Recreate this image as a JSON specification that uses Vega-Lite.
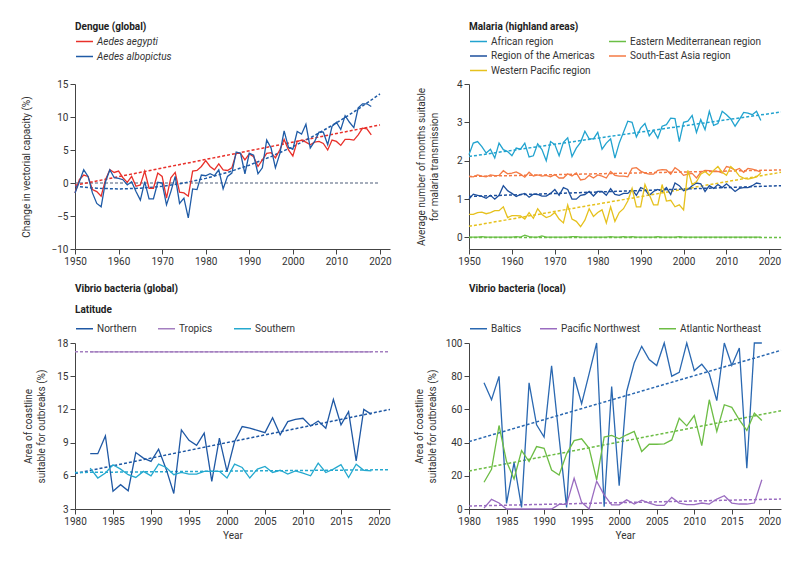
{
"$schema": "https://vega.github.io/schema/vega-lite/v6.json",
"padding": {"left": 21, "top": 22, "right": 5, "bottom": 5},
"background": "white",
"config": {
 "font": "Roboto",
 "view": {"stroke": null},
 "axis": {"domainColor": "#444", "tickColor": "#444", "labelColor": "#333", "titleColor": "#333", "labelFontSize": 10, "titleFontSize": 10, "titleFontWeight": "normal", "grid": false, "tickSize": 5, "labelPadding": 2, "domainWidth": 1, "tickWidth": 1, "zindex": 1, "titleLineHeight": 13, "labelFlush": false, "labelOverlap": false},
 "legend": {"labelFontSize": 10, "titleFontSize": 10, "titleFontWeight": "bold", "labelColor": "#333", "titleColor": "#222", "symbolType": "stroke", "symbolSize": 289, "symbolStrokeWidth": 1.5, "labelOffset": 3, "padding": 0, "rowPadding": -3, "titlePadding": 0}
},
"columns": 2,
"spacing": {"row": 94, "column": 79},
"bounds": "flush",
"resolve": {"scale": {"color": "independent", "x": "independent", "y": "independent"}, "legend": {"color": "independent"}},
"datasets": {
 "dengue": [
{"year":1950,"series":"Aedes aegypti","value":-1.5},{"year":1951,"series":"Aedes aegypti","value":0.5},{"year":1952,"series":"Aedes aegypti","value":1.2},{"year":1953,"series":"Aedes aegypti","value":1.0},{"year":1954,"series":"Aedes aegypti","value":-1.0},{"year":1955,"series":"Aedes aegypti","value":-1.3},{"year":1956,"series":"Aedes aegypti","value":-2.0},{"year":1957,"series":"Aedes aegypti","value":0.5},{"year":1958,"series":"Aedes aegypti","value":2.0},{"year":1959,"series":"Aedes aegypti","value":1.6},
{"year":1960,"series":"Aedes aegypti","value":1.8},{"year":1961,"series":"Aedes aegypti","value":0.8},{"year":1962,"series":"Aedes aegypti","value":0.1},{"year":1963,"series":"Aedes aegypti","value":1.0},{"year":1964,"series":"Aedes aegypti","value":-0.5},{"year":1965,"series":"Aedes aegypti","value":-0.3},{"year":1966,"series":"Aedes aegypti","value":1.8},{"year":1967,"series":"Aedes aegypti","value":-0.8},{"year":1968,"series":"Aedes aegypti","value":-0.8},{"year":1969,"series":"Aedes aegypti","value":1.5},
{"year":1970,"series":"Aedes aegypti","value":1.0},{"year":1971,"series":"Aedes aegypti","value":-2.3},{"year":1972,"series":"Aedes aegypti","value":0.8},{"year":1973,"series":"Aedes aegypti","value":1.6},{"year":1974,"series":"Aedes aegypti","value":-1.4},{"year":1975,"series":"Aedes aegypti","value":-1.5},{"year":1976,"series":"Aedes aegypti","value":-2.0},{"year":1977,"series":"Aedes aegypti","value":1.8},{"year":1978,"series":"Aedes aegypti","value":1.9},{"year":1979,"series":"Aedes aegypti","value":2.5},
{"year":1980,"series":"Aedes aegypti","value":3.4},{"year":1981,"series":"Aedes aegypti","value":2.5},{"year":1982,"series":"Aedes aegypti","value":2.0},{"year":1983,"series":"Aedes aegypti","value":2.9},{"year":1984,"series":"Aedes aegypti","value":2.0},{"year":1985,"series":"Aedes aegypti","value":1.9},{"year":1986,"series":"Aedes aegypti","value":2.3},{"year":1987,"series":"Aedes aegypti","value":4.5},{"year":1988,"series":"Aedes aegypti","value":4.5},{"year":1989,"series":"Aedes aegypti","value":3.5},
{"year":1990,"series":"Aedes aegypti","value":4.4},{"year":1991,"series":"Aedes aegypti","value":4.0},{"year":1992,"series":"Aedes aegypti","value":2.5},{"year":1993,"series":"Aedes aegypti","value":3.5},{"year":1994,"series":"Aedes aegypti","value":4.5},{"year":1995,"series":"Aedes aegypti","value":4.6},{"year":1996,"series":"Aedes aegypti","value":3.8},{"year":1997,"series":"Aedes aegypti","value":5.0},{"year":1998,"series":"Aedes aegypti","value":6.6},{"year":1999,"series":"Aedes aegypti","value":5.0},
{"year":2000,"series":"Aedes aegypti","value":4.1},{"year":2001,"series":"Aedes aegypti","value":6.3},{"year":2002,"series":"Aedes aegypti","value":6.5},{"year":2003,"series":"Aedes aegypti","value":6.2},{"year":2004,"series":"Aedes aegypti","value":5.8},{"year":2005,"series":"Aedes aegypti","value":6.2},{"year":2006,"series":"Aedes aegypti","value":6.3},{"year":2007,"series":"Aedes aegypti","value":6.0},{"year":2008,"series":"Aedes aegypti","value":5.0},{"year":2009,"series":"Aedes aegypti","value":6.5},
{"year":2010,"series":"Aedes aegypti","value":6.3},{"year":2011,"series":"Aedes aegypti","value":5.7},{"year":2012,"series":"Aedes aegypti","value":6.6},{"year":2013,"series":"Aedes aegypti","value":6.6},{"year":2014,"series":"Aedes aegypti","value":6.5},{"year":2015,"series":"Aedes aegypti","value":7.3},{"year":2016,"series":"Aedes aegypti","value":8.3},{"year":2017,"series":"Aedes aegypti","value":8.2},{"year":2018,"series":"Aedes aegypti","value":7.3},
{"year":1950,"series":"Aedes albopictus","value":-1.5},{"year":1951,"series":"Aedes albopictus","value":0.2},{"year":1952,"series":"Aedes albopictus","value":2.0},{"year":1953,"series":"Aedes albopictus","value":1.0},{"year":1954,"series":"Aedes albopictus","value":-1.5},{"year":1955,"series":"Aedes albopictus","value":-3.1},{"year":1956,"series":"Aedes albopictus","value":-3.6},{"year":1957,"series":"Aedes albopictus","value":0.2},{"year":1958,"series":"Aedes albopictus","value":2.0},{"year":1959,"series":"Aedes albopictus","value":0.8},
{"year":1960,"series":"Aedes albopictus","value":0.7},{"year":1961,"series":"Aedes albopictus","value":0.5},{"year":1962,"series":"Aedes albopictus","value":-0.3},{"year":1963,"series":"Aedes albopictus","value":0.2},{"year":1964,"series":"Aedes albopictus","value":-1.3},{"year":1965,"series":"Aedes albopictus","value":-2.6},{"year":1966,"series":"Aedes albopictus","value":0.2},{"year":1967,"series":"Aedes albopictus","value":-2.4},{"year":1968,"series":"Aedes albopictus","value":-2.4},{"year":1969,"series":"Aedes albopictus","value":0.1},
{"year":1970,"series":"Aedes albopictus","value":0.0},{"year":1971,"series":"Aedes albopictus","value":-3.3},{"year":1972,"series":"Aedes albopictus","value":-1.3},{"year":1973,"series":"Aedes albopictus","value":1.0},{"year":1974,"series":"Aedes albopictus","value":-3.1},{"year":1975,"series":"Aedes albopictus","value":-2.3},{"year":1976,"series":"Aedes albopictus","value":-5.3},{"year":1977,"series":"Aedes albopictus","value":-0.9},{"year":1978,"series":"Aedes albopictus","value":-1.0},{"year":1979,"series":"Aedes albopictus","value":1.2},
{"year":1980,"series":"Aedes albopictus","value":1.1},{"year":1981,"series":"Aedes albopictus","value":1.4},{"year":1982,"series":"Aedes albopictus","value":1.1},{"year":1983,"series":"Aedes albopictus","value":2.0},{"year":1984,"series":"Aedes albopictus","value":-0.9},{"year":1985,"series":"Aedes albopictus","value":1.0},{"year":1986,"series":"Aedes albopictus","value":1.5},{"year":1987,"series":"Aedes albopictus","value":4.7},{"year":1988,"series":"Aedes albopictus","value":4.5},{"year":1989,"series":"Aedes albopictus","value":1.4},
{"year":1990,"series":"Aedes albopictus","value":4.5},{"year":1991,"series":"Aedes albopictus","value":4.2},{"year":1992,"series":"Aedes albopictus","value":1.4},{"year":1993,"series":"Aedes albopictus","value":2.3},{"year":1994,"series":"Aedes albopictus","value":6.5},{"year":1995,"series":"Aedes albopictus","value":5.3},{"year":1996,"series":"Aedes albopictus","value":2.3},{"year":1997,"series":"Aedes albopictus","value":4.4},{"year":1998,"series":"Aedes albopictus","value":7.9},{"year":1999,"series":"Aedes albopictus","value":5.4},
{"year":2000,"series":"Aedes albopictus","value":5.1},{"year":2001,"series":"Aedes albopictus","value":7.8},{"year":2002,"series":"Aedes albopictus","value":7.4},{"year":2003,"series":"Aedes albopictus","value":8.9},{"year":2004,"series":"Aedes albopictus","value":5.3},{"year":2005,"series":"Aedes albopictus","value":6.3},{"year":2006,"series":"Aedes albopictus","value":7.7},{"year":2007,"series":"Aedes albopictus","value":7.7},{"year":2008,"series":"Aedes albopictus","value":5.8},{"year":2009,"series":"Aedes albopictus","value":8.6},
{"year":2010,"series":"Aedes albopictus","value":9.2},{"year":2011,"series":"Aedes albopictus","value":8.1},{"year":2012,"series":"Aedes albopictus","value":10.2},{"year":2013,"series":"Aedes albopictus","value":9.2},{"year":2014,"series":"Aedes albopictus","value":8.4},{"year":2015,"series":"Aedes albopictus","value":11.4},{"year":2016,"series":"Aedes albopictus","value":12.0},{"year":2017,"series":"Aedes albopictus","value":12.0},{"year":2018,"series":"Aedes albopictus","value":11.6}
 ],
 "dengueTrend": [
{"year":1950,"series":"Aedes aegypti","value":-0.35},{"year":2020,"series":"Aedes aegypti","value":8.8},
{"year":1950,"series":"Aedes albopictus","value":-0.5},{"year":1955,"series":"Aedes albopictus","value":-0.8},{"year":1960,"series":"Aedes albopictus","value":-0.9},{"year":1965,"series":"Aedes albopictus","value":-0.8},{"year":1970,"series":"Aedes albopictus","value":-0.5},{"year":1975,"series":"Aedes albopictus","value":0.0},{"year":1980,"series":"Aedes albopictus","value":0.7},{"year":1985,"series":"Aedes albopictus","value":1.6},{"year":1990,"series":"Aedes albopictus","value":2.7},{"year":1995,"series":"Aedes albopictus","value":4.0},{"year":2000,"series":"Aedes albopictus","value":5.5},{"year":2005,"series":"Aedes albopictus","value":7.2},{"year":2010,"series":"Aedes albopictus","value":9.1},{"year":2015,"series":"Aedes albopictus","value":11.2},{"year":2020,"series":"Aedes albopictus","value":13.5}
 ],
 "malaria": [
{"year":1950,"series":"African region","value":2.16},{"year":1951,"series":"African region","value":2.46},{"year":1952,"series":"African region","value":2.5},{"year":1953,"series":"African region","value":2.37},{"year":1954,"series":"African region","value":2.2},{"year":1955,"series":"African region","value":2.3},{"year":1956,"series":"African region","value":2.07},{"year":1957,"series":"African region","value":2.46},{"year":1958,"series":"African region","value":2.29},{"year":1959,"series":"African region","value":2.24},
{"year":1960,"series":"African region","value":2.13},{"year":1961,"series":"African region","value":2.33},{"year":1962,"series":"African region","value":2.3},{"year":1963,"series":"African region","value":2.46},{"year":1964,"series":"African region","value":2.1},{"year":1965,"series":"African region","value":2.13},{"year":1966,"series":"African region","value":2.44},{"year":1967,"series":"African region","value":2.29},{"year":1968,"series":"African region","value":2.0},{"year":1969,"series":"African region","value":2.5},
{"year":1970,"series":"African region","value":2.42},{"year":1971,"series":"African region","value":2.13},{"year":1972,"series":"African region","value":2.48},{"year":1973,"series":"African region","value":2.6},{"year":1974,"series":"African region","value":2.11},{"year":1975,"series":"African region","value":2.33},{"year":1976,"series":"African region","value":2.48},{"year":1977,"series":"African region","value":2.77},{"year":1978,"series":"African region","value":2.57},{"year":1979,"series":"African region","value":2.57},
{"year":1980,"series":"African region","value":2.74},{"year":1981,"series":"African region","value":2.3},{"year":1982,"series":"African region","value":2.46},{"year":1983,"series":"African region","value":2.57},{"year":1984,"series":"African region","value":2.07},{"year":1985,"series":"African region","value":2.46},{"year":1986,"series":"African region","value":2.74},{"year":1987,"series":"African region","value":3.03},{"year":1988,"series":"African region","value":3.0},{"year":1989,"series":"African region","value":2.62},
{"year":1990,"series":"African region","value":2.85},{"year":1991,"series":"African region","value":2.97},{"year":1992,"series":"African region","value":2.65},{"year":1993,"series":"African region","value":2.79},{"year":1994,"series":"African region","value":2.59},{"year":1995,"series":"African region","value":2.9},{"year":1996,"series":"African region","value":2.94},{"year":1997,"series":"African region","value":3.11},{"year":1998,"series":"African region","value":3.1},{"year":1999,"series":"African region","value":2.5},
{"year":2000,"series":"African region","value":3.0},{"year":2001,"series":"African region","value":3.03},{"year":2002,"series":"African region","value":3.18},{"year":2003,"series":"African region","value":2.74},{"year":2004,"series":"African region","value":3.07},{"year":2005,"series":"African region","value":2.81},{"year":2006,"series":"African region","value":3.29},{"year":2007,"series":"African region","value":2.92},{"year":2008,"series":"African region","value":2.97},{"year":2009,"series":"African region","value":3.29},
{"year":2010,"series":"African region","value":3.2},{"year":2011,"series":"African region","value":3.09},{"year":2012,"series":"African region","value":2.9},{"year":2013,"series":"African region","value":3.07},{"year":2014,"series":"African region","value":3.26},{"year":2015,"series":"African region","value":3.24},{"year":2016,"series":"African region","value":3.2},{"year":2017,"series":"African region","value":3.29},{"year":2018,"series":"African region","value":3.05},
{"year":1950,"series":"Eastern Mediterranean region","value":0.01},{"year":1951,"series":"Eastern Mediterranean region","value":0.01},{"year":1952,"series":"Eastern Mediterranean region","value":0.01},{"year":1953,"series":"Eastern Mediterranean region","value":0.02},{"year":1954,"series":"Eastern Mediterranean region","value":0.01},{"year":1955,"series":"Eastern Mediterranean region","value":0.01},{"year":1956,"series":"Eastern Mediterranean region","value":0.01},{"year":1957,"series":"Eastern Mediterranean region","value":0.01},{"year":1958,"series":"Eastern Mediterranean region","value":0.01},{"year":1959,"series":"Eastern Mediterranean region","value":0.01},
{"year":1960,"series":"Eastern Mediterranean region","value":0.01},{"year":1961,"series":"Eastern Mediterranean region","value":0.02},{"year":1962,"series":"Eastern Mediterranean region","value":0.01},{"year":1963,"series":"Eastern Mediterranean region","value":0.06},{"year":1964,"series":"Eastern Mediterranean region","value":0.02},{"year":1965,"series":"Eastern Mediterranean region","value":0.01},{"year":1966,"series":"Eastern Mediterranean region","value":0.01},{"year":1967,"series":"Eastern Mediterranean region","value":0.04},{"year":1968,"series":"Eastern Mediterranean region","value":0.01},{"year":1969,"series":"Eastern Mediterranean region","value":0.01},
{"year":1970,"series":"Eastern Mediterranean region","value":0.01},{"year":1971,"series":"Eastern Mediterranean region","value":0.01},{"year":1972,"series":"Eastern Mediterranean region","value":0.01},{"year":1973,"series":"Eastern Mediterranean region","value":0.01},{"year":1974,"series":"Eastern Mediterranean region","value":0.02},{"year":1975,"series":"Eastern Mediterranean region","value":0.02},{"year":1976,"series":"Eastern Mediterranean region","value":0.01},{"year":1977,"series":"Eastern Mediterranean region","value":0.01},{"year":1978,"series":"Eastern Mediterranean region","value":0.01},{"year":1979,"series":"Eastern Mediterranean region","value":0.01},
{"year":1980,"series":"Eastern Mediterranean region","value":0.01},{"year":1981,"series":"Eastern Mediterranean region","value":0.01},{"year":1982,"series":"Eastern Mediterranean region","value":0.01},{"year":1983,"series":"Eastern Mediterranean region","value":0.02},{"year":1984,"series":"Eastern Mediterranean region","value":0.01},{"year":1985,"series":"Eastern Mediterranean region","value":0.01},{"year":1986,"series":"Eastern Mediterranean region","value":0.02},{"year":1987,"series":"Eastern Mediterranean region","value":0.01},{"year":1988,"series":"Eastern Mediterranean region","value":0.02},{"year":1989,"series":"Eastern Mediterranean region","value":0.01},
{"year":1990,"series":"Eastern Mediterranean region","value":0.01},{"year":1991,"series":"Eastern Mediterranean region","value":0.01},{"year":1992,"series":"Eastern Mediterranean region","value":0.01},{"year":1993,"series":"Eastern Mediterranean region","value":0.01},{"year":1994,"series":"Eastern Mediterranean region","value":0.02},{"year":1995,"series":"Eastern Mediterranean region","value":0.01},{"year":1996,"series":"Eastern Mediterranean region","value":0.01},{"year":1997,"series":"Eastern Mediterranean region","value":0.01},{"year":1998,"series":"Eastern Mediterranean region","value":0.01},{"year":1999,"series":"Eastern Mediterranean region","value":0.02},
{"year":2000,"series":"Eastern Mediterranean region","value":0.01},{"year":2001,"series":"Eastern Mediterranean region","value":0.01},{"year":2002,"series":"Eastern Mediterranean region","value":0.01},{"year":2003,"series":"Eastern Mediterranean region","value":0.01},{"year":2004,"series":"Eastern Mediterranean region","value":0.01},{"year":2005,"series":"Eastern Mediterranean region","value":0.01},{"year":2006,"series":"Eastern Mediterranean region","value":0.01},{"year":2007,"series":"Eastern Mediterranean region","value":0.01},{"year":2008,"series":"Eastern Mediterranean region","value":0.01},{"year":2009,"series":"Eastern Mediterranean region","value":0.01},
{"year":2010,"series":"Eastern Mediterranean region","value":0.01},{"year":2011,"series":"Eastern Mediterranean region","value":0.01},{"year":2012,"series":"Eastern Mediterranean region","value":0.01},{"year":2013,"series":"Eastern Mediterranean region","value":0.01},{"year":2014,"series":"Eastern Mediterranean region","value":0.01},{"year":2015,"series":"Eastern Mediterranean region","value":0.01},{"year":2016,"series":"Eastern Mediterranean region","value":0.01},{"year":2017,"series":"Eastern Mediterranean region","value":0.01},{"year":2018,"series":"Eastern Mediterranean region","value":0.01},
{"year":1950,"series":"South-East Asia region","value":1.59},{"year":1951,"series":"South-East Asia region","value":1.58},{"year":1952,"series":"South-East Asia region","value":1.63},{"year":1953,"series":"South-East Asia region","value":1.6},{"year":1954,"series":"South-East Asia region","value":1.58},{"year":1955,"series":"South-East Asia region","value":1.63},{"year":1956,"series":"South-East Asia region","value":1.61},{"year":1957,"series":"South-East Asia region","value":1.62},{"year":1958,"series":"South-East Asia region","value":1.74},{"year":1959,"series":"South-East Asia region","value":1.66},
{"year":1960,"series":"South-East Asia region","value":1.68},{"year":1961,"series":"South-East Asia region","value":1.71},{"year":1962,"series":"South-East Asia region","value":1.65},{"year":1963,"series":"South-East Asia region","value":1.57},{"year":1964,"series":"South-East Asia region","value":1.7},{"year":1965,"series":"South-East Asia region","value":1.6},{"year":1966,"series":"South-East Asia region","value":1.63},{"year":1967,"series":"South-East Asia region","value":1.6},{"year":1968,"series":"South-East Asia region","value":1.62},{"year":1969,"series":"South-East Asia region","value":1.58},
{"year":1970,"series":"South-East Asia region","value":1.64},{"year":1971,"series":"South-East Asia region","value":1.55},{"year":1972,"series":"South-East Asia region","value":1.55},{"year":1973,"series":"South-East Asia region","value":1.66},{"year":1974,"series":"South-East Asia region","value":1.6},{"year":1975,"series":"South-East Asia region","value":1.68},{"year":1976,"series":"South-East Asia region","value":1.5},{"year":1977,"series":"South-East Asia region","value":1.52},{"year":1978,"series":"South-East Asia region","value":1.62},{"year":1979,"series":"South-East Asia region","value":1.55},
{"year":1980,"series":"South-East Asia region","value":1.63},{"year":1981,"series":"South-East Asia region","value":1.6},{"year":1982,"series":"South-East Asia region","value":1.55},{"year":1983,"series":"South-East Asia region","value":1.72},{"year":1984,"series":"South-East Asia region","value":1.62},{"year":1985,"series":"South-East Asia region","value":1.6},{"year":1986,"series":"South-East Asia region","value":1.6},{"year":1987,"series":"South-East Asia region","value":1.58},{"year":1988,"series":"South-East Asia region","value":1.8},{"year":1989,"series":"South-East Asia region","value":1.82},
{"year":1990,"series":"South-East Asia region","value":1.73},{"year":1991,"series":"South-East Asia region","value":1.68},{"year":1992,"series":"South-East Asia region","value":1.65},{"year":1993,"series":"South-East Asia region","value":1.65},{"year":1994,"series":"South-East Asia region","value":1.75},{"year":1995,"series":"South-East Asia region","value":1.77},{"year":1996,"series":"South-East Asia region","value":1.76},{"year":1997,"series":"South-East Asia region","value":1.65},{"year":1998,"series":"South-East Asia region","value":1.82},{"year":1999,"series":"South-East Asia region","value":1.74},
{"year":2000,"series":"South-East Asia region","value":1.62},{"year":2001,"series":"South-East Asia region","value":1.65},{"year":2002,"series":"South-East Asia region","value":1.67},{"year":2003,"series":"South-East Asia region","value":1.55},{"year":2004,"series":"South-East Asia region","value":1.7},{"year":2005,"series":"South-East Asia region","value":1.75},{"year":2006,"series":"South-East Asia region","value":1.74},{"year":2007,"series":"South-East Asia region","value":1.72},{"year":2008,"series":"South-East Asia region","value":1.72},{"year":2009,"series":"South-East Asia region","value":1.68},
{"year":2010,"series":"South-East Asia region","value":1.85},{"year":2011,"series":"South-East Asia region","value":1.82},{"year":2012,"series":"South-East Asia region","value":1.75},{"year":2013,"series":"South-East Asia region","value":1.8},{"year":2014,"series":"South-East Asia region","value":1.7},{"year":2015,"series":"South-East Asia region","value":1.8},{"year":2016,"series":"South-East Asia region","value":1.78},{"year":2017,"series":"South-East Asia region","value":1.75},{"year":2018,"series":"South-East Asia region","value":1.7},
{"year":1950,"series":"Region of the Americas","value":1.0},{"year":1951,"series":"Region of the Americas","value":1.13},{"year":1952,"series":"Region of the Americas","value":1.1},{"year":1953,"series":"Region of the Americas","value":1.07},{"year":1954,"series":"Region of the Americas","value":1.02},{"year":1955,"series":"Region of the Americas","value":1.1},{"year":1956,"series":"Region of the Americas","value":1.0},{"year":1957,"series":"Region of the Americas","value":1.1},{"year":1958,"series":"Region of the Americas","value":1.35},{"year":1959,"series":"Region of the Americas","value":1.22},
{"year":1960,"series":"Region of the Americas","value":1.15},{"year":1961,"series":"Region of the Americas","value":1.07},{"year":1962,"series":"Region of the Americas","value":1.12},{"year":1963,"series":"Region of the Americas","value":1.15},{"year":1964,"series":"Region of the Americas","value":1.05},{"year":1965,"series":"Region of the Americas","value":1.13},{"year":1966,"series":"Region of the Americas","value":1.12},{"year":1967,"series":"Region of the Americas","value":1.08},{"year":1968,"series":"Region of the Americas","value":1.08},{"year":1969,"series":"Region of the Americas","value":1.15},
{"year":1970,"series":"Region of the Americas","value":1.25},{"year":1971,"series":"Region of the Americas","value":1.1},{"year":1972,"series":"Region of the Americas","value":1.3},{"year":1973,"series":"Region of the Americas","value":1.25},{"year":1974,"series":"Region of the Americas","value":1.0},{"year":1975,"series":"Region of the Americas","value":1.0},{"year":1976,"series":"Region of the Americas","value":1.1},{"year":1977,"series":"Region of the Americas","value":1.12},{"year":1978,"series":"Region of the Americas","value":1.2},{"year":1979,"series":"Region of the Americas","value":1.08},
{"year":1980,"series":"Region of the Americas","value":1.2},{"year":1981,"series":"Region of the Americas","value":1.2},{"year":1982,"series":"Region of the Americas","value":1.1},{"year":1983,"series":"Region of the Americas","value":1.27},{"year":1984,"series":"Region of the Americas","value":1.12},{"year":1985,"series":"Region of the Americas","value":1.1},{"year":1986,"series":"Region of the Americas","value":1.15},{"year":1987,"series":"Region of the Americas","value":1.15},{"year":1988,"series":"Region of the Americas","value":1.25},{"year":1989,"series":"Region of the Americas","value":1.1},
{"year":1990,"series":"Region of the Americas","value":1.3},{"year":1991,"series":"Region of the Americas","value":1.25},{"year":1992,"series":"Region of the Americas","value":1.1},{"year":1993,"series":"Region of the Americas","value":1.2},{"year":1994,"series":"Region of the Americas","value":1.25},{"year":1995,"series":"Region of the Americas","value":1.2},{"year":1996,"series":"Region of the Americas","value":1.3},{"year":1997,"series":"Region of the Americas","value":1.12},{"year":1998,"series":"Region of the Americas","value":1.42},{"year":1999,"series":"Region of the Americas","value":1.35},
{"year":2000,"series":"Region of the Americas","value":1.22},{"year":2001,"series":"Region of the Americas","value":1.25},{"year":2002,"series":"Region of the Americas","value":1.35},{"year":2003,"series":"Region of the Americas","value":1.42},{"year":2004,"series":"Region of the Americas","value":1.4},{"year":2005,"series":"Region of the Americas","value":1.2},{"year":2006,"series":"Region of the Americas","value":1.35},{"year":2007,"series":"Region of the Americas","value":1.28},{"year":2008,"series":"Region of the Americas","value":1.38},{"year":2009,"series":"Region of the Americas","value":1.3},
{"year":2010,"series":"Region of the Americas","value":1.4},{"year":2011,"series":"Region of the Americas","value":1.3},{"year":2012,"series":"Region of the Americas","value":1.2},{"year":2013,"series":"Region of the Americas","value":1.28},{"year":2014,"series":"Region of the Americas","value":1.3},{"year":2015,"series":"Region of the Americas","value":1.3},{"year":2016,"series":"Region of the Americas","value":1.35},{"year":2017,"series":"Region of the Americas","value":1.42},{"year":2018,"series":"Region of the Americas","value":1.4},
{"year":1950,"series":"Western Pacific region","value":0.6},{"year":1951,"series":"Western Pacific region","value":0.6},{"year":1952,"series":"Western Pacific region","value":0.65},{"year":1953,"series":"Western Pacific region","value":0.66},{"year":1954,"series":"Western Pacific region","value":0.62},{"year":1955,"series":"Western Pacific region","value":0.65},{"year":1956,"series":"Western Pacific region","value":0.7},{"year":1957,"series":"Western Pacific region","value":0.7},{"year":1958,"series":"Western Pacific region","value":0.8},{"year":1959,"series":"Western Pacific region","value":0.52},
{"year":1960,"series":"Western Pacific region","value":0.57},{"year":1961,"series":"Western Pacific region","value":0.57},{"year":1962,"series":"Western Pacific region","value":0.56},{"year":1963,"series":"Western Pacific region","value":0.48},{"year":1964,"series":"Western Pacific region","value":0.65},{"year":1965,"series":"Western Pacific region","value":0.5},{"year":1966,"series":"Western Pacific region","value":0.75},{"year":1967,"series":"Western Pacific region","value":0.6},{"year":1968,"series":"Western Pacific region","value":0.52},{"year":1969,"series":"Western Pacific region","value":0.56},
{"year":1970,"series":"Western Pacific region","value":0.65},{"year":1971,"series":"Western Pacific region","value":0.48},{"year":1972,"series":"Western Pacific region","value":0.38},{"year":1973,"series":"Western Pacific region","value":0.85},{"year":1974,"series":"Western Pacific region","value":0.48},{"year":1975,"series":"Western Pacific region","value":0.42},{"year":1976,"series":"Western Pacific region","value":0.28},{"year":1977,"series":"Western Pacific region","value":0.45},{"year":1978,"series":"Western Pacific region","value":0.75},{"year":1979,"series":"Western Pacific region","value":0.55},
{"year":1980,"series":"Western Pacific region","value":0.65},{"year":1981,"series":"Western Pacific region","value":0.72},{"year":1982,"series":"Western Pacific region","value":0.38},{"year":1983,"series":"Western Pacific region","value":0.8},{"year":1984,"series":"Western Pacific region","value":0.42},{"year":1985,"series":"Western Pacific region","value":0.65},{"year":1986,"series":"Western Pacific region","value":0.75},{"year":1987,"series":"Western Pacific region","value":0.95},{"year":1988,"series":"Western Pacific region","value":1.28},{"year":1989,"series":"Western Pacific region","value":0.8},
{"year":1990,"series":"Western Pacific region","value":0.8},{"year":1991,"series":"Western Pacific region","value":1.38},{"year":1992,"series":"Western Pacific region","value":1.12},{"year":1993,"series":"Western Pacific region","value":0.85},{"year":1994,"series":"Western Pacific region","value":0.85},{"year":1995,"series":"Western Pacific region","value":1.38},{"year":1996,"series":"Western Pacific region","value":0.95},{"year":1997,"series":"Western Pacific region","value":0.97},{"year":1998,"series":"Western Pacific region","value":0.8},{"year":1999,"series":"Western Pacific region","value":0.85},
{"year":2000,"series":"Western Pacific region","value":0.72},{"year":2001,"series":"Western Pacific region","value":1.75},{"year":2002,"series":"Western Pacific region","value":1.38},{"year":2003,"series":"Western Pacific region","value":1.45},{"year":2004,"series":"Western Pacific region","value":1.65},{"year":2005,"series":"Western Pacific region","value":1.72},{"year":2006,"series":"Western Pacific region","value":1.62},{"year":2007,"series":"Western Pacific region","value":1.75},{"year":2008,"series":"Western Pacific region","value":1.85},{"year":2009,"series":"Western Pacific region","value":1.7},
{"year":2010,"series":"Western Pacific region","value":1.62},{"year":2011,"series":"Western Pacific region","value":1.85},{"year":2012,"series":"Western Pacific region","value":1.75},{"year":2013,"series":"Western Pacific region","value":1.6},{"year":2014,"series":"Western Pacific region","value":1.55},{"year":2015,"series":"Western Pacific region","value":1.52},{"year":2016,"series":"Western Pacific region","value":1.55},{"year":2017,"series":"Western Pacific region","value":1.58},{"year":2018,"series":"Western Pacific region","value":1.68}
 ],
 "malariaTrend": [
{"year":1950,"series":"African region","value":2.11},{"year":2022.7,"series":"African region","value":3.27},
{"year":1950,"series":"Eastern Mediterranean region","value":0},{"year":2022.7,"series":"Eastern Mediterranean region","value":0},
{"year":1950,"series":"Region of the Americas","value":1.07},{"year":2022.7,"series":"Region of the Americas","value":1.35},
{"year":1950,"series":"South-East Asia region","value":1.59},{"year":2022.7,"series":"South-East Asia region","value":1.76},
{"year":1950,"series":"Western Pacific region","value":0.29},{"year":2022.7,"series":"Western Pacific region","value":1.7}
 ],
 "vibrioGlobal": [
{"year":1982,"series":"Northern","value":8.0},{"year":1983,"series":"Northern","value":8.0},{"year":1984,"series":"Northern","value":9.6},{"year":1985,"series":"Northern","value":4.6},{"year":1986,"series":"Northern","value":5.2},{"year":1987,"series":"Northern","value":4.65},{"year":1988,"series":"Northern","value":8.1},{"year":1989,"series":"Northern","value":7.6},{"year":1990,"series":"Northern","value":7.3},{"year":1991,"series":"Northern","value":8.4},
{"year":1992,"series":"Northern","value":6.6},{"year":1993,"series":"Northern","value":4.4},{"year":1994,"series":"Northern","value":10.15},{"year":1995,"series":"Northern","value":9.2},{"year":1996,"series":"Northern","value":8.75},{"year":1997,"series":"Northern","value":9.85},{"year":1998,"series":"Northern","value":5.5},{"year":1999,"series":"Northern","value":9.4},{"year":2000,"series":"Northern","value":6.4},{"year":2001,"series":"Northern","value":9.1},
{"year":2002,"series":"Northern","value":10.45},{"year":2003,"series":"Northern","value":10.3},{"year":2004,"series":"Northern","value":10.1},{"year":2005,"series":"Northern","value":9.9},{"year":2006,"series":"Northern","value":11.25},{"year":2007,"series":"Northern","value":9.7},{"year":2008,"series":"Northern","value":10.9},{"year":2009,"series":"Northern","value":11.1},{"year":2010,"series":"Northern","value":11.2},{"year":2011,"series":"Northern","value":10.5},
{"year":2012,"series":"Northern","value":10.95},{"year":2013,"series":"Northern","value":10.3},{"year":2014,"series":"Northern","value":12.9},{"year":2015,"series":"Northern","value":10.6},{"year":2016,"series":"Northern","value":11.8},{"year":2017,"series":"Northern","value":7.35},{"year":2018,"series":"Northern","value":12.0},{"year":2019,"series":"Northern","value":11.55},
{"year":1982,"series":"Tropics","value":17.2},{"year":1983,"series":"Tropics","value":17.2},{"year":1984,"series":"Tropics","value":17.2},{"year":1985,"series":"Tropics","value":17.2},{"year":1986,"series":"Tropics","value":17.2},{"year":1987,"series":"Tropics","value":17.2},{"year":1988,"series":"Tropics","value":17.2},{"year":1989,"series":"Tropics","value":17.2},{"year":1990,"series":"Tropics","value":17.2},{"year":1991,"series":"Tropics","value":17.2},
{"year":1992,"series":"Tropics","value":17.2},{"year":1993,"series":"Tropics","value":17.2},{"year":1994,"series":"Tropics","value":17.2},{"year":1995,"series":"Tropics","value":17.2},{"year":1996,"series":"Tropics","value":17.2},{"year":1997,"series":"Tropics","value":17.2},{"year":1998,"series":"Tropics","value":17.2},{"year":1999,"series":"Tropics","value":17.2},{"year":2000,"series":"Tropics","value":17.2},{"year":2001,"series":"Tropics","value":17.2},
{"year":2002,"series":"Tropics","value":17.2},{"year":2003,"series":"Tropics","value":17.2},{"year":2004,"series":"Tropics","value":17.2},{"year":2005,"series":"Tropics","value":17.2},{"year":2006,"series":"Tropics","value":17.2},{"year":2007,"series":"Tropics","value":17.2},{"year":2008,"series":"Tropics","value":17.2},{"year":2009,"series":"Tropics","value":17.2},{"year":2010,"series":"Tropics","value":17.2},{"year":2011,"series":"Tropics","value":17.2},
{"year":2012,"series":"Tropics","value":17.2},{"year":2013,"series":"Tropics","value":17.2},{"year":2014,"series":"Tropics","value":17.2},{"year":2015,"series":"Tropics","value":17.2},{"year":2016,"series":"Tropics","value":17.2},{"year":2017,"series":"Tropics","value":17.2},{"year":2018,"series":"Tropics","value":17.2},{"year":2019,"series":"Tropics","value":17.2},
{"year":1982,"series":"Southern","value":6.7},{"year":1983,"series":"Southern","value":5.8},{"year":1984,"series":"Southern","value":6.25},{"year":1985,"series":"Southern","value":7.0},{"year":1986,"series":"Southern","value":6.6},{"year":1987,"series":"Southern","value":6.1},{"year":1988,"series":"Southern","value":5.85},{"year":1989,"series":"Southern","value":6.4},{"year":1990,"series":"Southern","value":6.0},{"year":1991,"series":"Southern","value":7.05},
{"year":1992,"series":"Southern","value":6.75},{"year":1993,"series":"Southern","value":6.1},{"year":1994,"series":"Southern","value":6.3},{"year":1995,"series":"Southern","value":6.15},{"year":1996,"series":"Southern","value":6.15},{"year":1997,"series":"Southern","value":6.4},{"year":1998,"series":"Southern","value":6.4},{"year":1999,"series":"Southern","value":6.4},{"year":2000,"series":"Southern","value":5.8},{"year":2001,"series":"Southern","value":7.05},
{"year":2002,"series":"Southern","value":6.75},{"year":2003,"series":"Southern","value":5.8},{"year":2004,"series":"Southern","value":6.6},{"year":2005,"series":"Southern","value":6.85},{"year":2006,"series":"Southern","value":6.3},{"year":2007,"series":"Southern","value":6.5},{"year":2008,"series":"Southern","value":6.15},{"year":2009,"series":"Southern","value":6.45},{"year":2010,"series":"Southern","value":6.25},{"year":2011,"series":"Southern","value":6.0},
{"year":2012,"series":"Southern","value":7.15},{"year":2013,"series":"Southern","value":6.3},{"year":2014,"series":"Southern","value":6.6},{"year":2015,"series":"Southern","value":7.0},{"year":2016,"series":"Southern","value":5.85},{"year":2017,"series":"Southern","value":7.05},{"year":2018,"series":"Southern","value":6.5},{"year":2019,"series":"Southern","value":6.45}
 ],
 "vibrioGlobalTrend": [
{"year":1980,"series":"Northern","value":6.2},{"year":2021.45,"series":"Northern","value":12.0},
{"year":1980,"series":"Tropics","value":17.2},{"year":2021.45,"series":"Tropics","value":17.2},
{"year":1980,"series":"Southern","value":6.3},{"year":2021.45,"series":"Southern","value":6.55}
 ],
 "vibrioLocal": [
{"year":1982,"series":"Baltics","value":76},{"year":1983,"series":"Baltics","value":65.8},{"year":1984,"series":"Baltics","value":79.9},{"year":1985,"series":"Baltics","value":3.4},{"year":1986,"series":"Baltics","value":28},{"year":1987,"series":"Baltics","value":1},{"year":1988,"series":"Baltics","value":76},{"year":1989,"series":"Baltics","value":50.7},{"year":1990,"series":"Baltics","value":43.3},{"year":1991,"series":"Baltics","value":86.3},
{"year":1992,"series":"Baltics","value":43},{"year":1993,"series":"Baltics","value":1},{"year":1994,"series":"Baltics","value":79.5},{"year":1995,"series":"Baltics","value":63.4},{"year":1996,"series":"Baltics","value":81.5},{"year":1997,"series":"Baltics","value":100},{"year":1998,"series":"Baltics","value":1.4},{"year":1999,"series":"Baltics","value":73.8},{"year":2000,"series":"Baltics","value":14},{"year":2001,"series":"Baltics","value":70.8},
{"year":2002,"series":"Baltics","value":87.9},{"year":2003,"series":"Baltics","value":98},{"year":2004,"series":"Baltics","value":90},{"year":2005,"series":"Baltics","value":86.4},{"year":2006,"series":"Baltics","value":100},{"year":2007,"series":"Baltics","value":80},{"year":2008,"series":"Baltics","value":82.3},{"year":2009,"series":"Baltics","value":100},{"year":2010,"series":"Baltics","value":83.4},{"year":2011,"series":"Baltics","value":87.2},
{"year":2012,"series":"Baltics","value":81.5},{"year":2013,"series":"Baltics","value":65.3},{"year":2014,"series":"Baltics","value":100},{"year":2015,"series":"Baltics","value":86.5},{"year":2016,"series":"Baltics","value":97},{"year":2017,"series":"Baltics","value":24.5},{"year":2018,"series":"Baltics","value":100},{"year":2019,"series":"Baltics","value":100},
{"year":1982,"series":"Pacific Northwest","value":0.5},{"year":1983,"series":"Pacific Northwest","value":5.8},{"year":1984,"series":"Pacific Northwest","value":3.6},{"year":1985,"series":"Pacific Northwest","value":0},{"year":1986,"series":"Pacific Northwest","value":0},{"year":1987,"series":"Pacific Northwest","value":0},{"year":1988,"series":"Pacific Northwest","value":0},{"year":1989,"series":"Pacific Northwest","value":0},{"year":1990,"series":"Pacific Northwest","value":0},{"year":1991,"series":"Pacific Northwest","value":0},
{"year":1992,"series":"Pacific Northwest","value":2.8},{"year":1993,"series":"Pacific Northwest","value":2.8},{"year":1994,"series":"Pacific Northwest","value":18.5},{"year":1995,"series":"Pacific Northwest","value":4},{"year":1996,"series":"Pacific Northwest","value":0},{"year":1997,"series":"Pacific Northwest","value":16.8},{"year":1998,"series":"Pacific Northwest","value":8.5},{"year":1999,"series":"Pacific Northwest","value":2.5},{"year":2000,"series":"Pacific Northwest","value":2.5},{"year":2001,"series":"Pacific Northwest","value":5.5},
{"year":2002,"series":"Pacific Northwest","value":3},{"year":2003,"series":"Pacific Northwest","value":5.3},{"year":2004,"series":"Pacific Northwest","value":3.6},{"year":2005,"series":"Pacific Northwest","value":2.2},{"year":2006,"series":"Pacific Northwest","value":2.2},{"year":2007,"series":"Pacific Northwest","value":7},{"year":2008,"series":"Pacific Northwest","value":3.6},{"year":2009,"series":"Pacific Northwest","value":2.6},{"year":2010,"series":"Pacific Northwest","value":2.6},{"year":2011,"series":"Pacific Northwest","value":3.6},
{"year":2012,"series":"Pacific Northwest","value":3},{"year":2013,"series":"Pacific Northwest","value":6},{"year":2014,"series":"Pacific Northwest","value":8},{"year":2015,"series":"Pacific Northwest","value":3.6},{"year":2016,"series":"Pacific Northwest","value":3},{"year":2017,"series":"Pacific Northwest","value":3},{"year":2018,"series":"Pacific Northwest","value":3.6},{"year":2019,"series":"Pacific Northwest","value":17.6},
{"year":1982,"series":"Atlantic Northeast","value":16.1},{"year":1983,"series":"Atlantic Northeast","value":23.9},{"year":1984,"series":"Atlantic Northeast","value":50.3},{"year":1985,"series":"Atlantic Northeast","value":28.6},{"year":1986,"series":"Atlantic Northeast","value":18.1},{"year":1987,"series":"Atlantic Northeast","value":35.2},{"year":1988,"series":"Atlantic Northeast","value":28.6},{"year":1989,"series":"Atlantic Northeast","value":37.6},{"year":1990,"series":"Atlantic Northeast","value":36.6},{"year":1991,"series":"Atlantic Northeast","value":23.5},
{"year":1992,"series":"Atlantic Northeast","value":20.5},{"year":1993,"series":"Atlantic Northeast","value":33.2},{"year":1994,"series":"Atlantic Northeast","value":41.2},{"year":1995,"series":"Atlantic Northeast","value":42.3},{"year":1996,"series":"Atlantic Northeast","value":36.6},{"year":1997,"series":"Atlantic Northeast","value":17.5},{"year":1998,"series":"Atlantic Northeast","value":43.3},{"year":1999,"series":"Atlantic Northeast","value":44.3},{"year":2000,"series":"Atlantic Northeast","value":42.3},{"year":2001,"series":"Atlantic Northeast","value":44.7},
{"year":2002,"series":"Atlantic Northeast","value":46.7},{"year":2003,"series":"Atlantic Northeast","value":34.6},{"year":2004,"series":"Atlantic Northeast","value":39},{"year":2005,"series":"Atlantic Northeast","value":39},{"year":2006,"series":"Atlantic Northeast","value":39.2},{"year":2007,"series":"Atlantic Northeast","value":41.6},{"year":2008,"series":"Atlantic Northeast","value":54.7},{"year":2009,"series":"Atlantic Northeast","value":50.1},{"year":2010,"series":"Atlantic Northeast","value":56.3},{"year":2011,"series":"Atlantic Northeast","value":38.2},
{"year":2012,"series":"Atlantic Northeast","value":65.8},{"year":2013,"series":"Atlantic Northeast","value":46.7},{"year":2014,"series":"Atlantic Northeast","value":62.8},{"year":2015,"series":"Atlantic Northeast","value":61.2},{"year":2016,"series":"Atlantic Northeast","value":53.7},{"year":2017,"series":"Atlantic Northeast","value":47.3},{"year":2018,"series":"Atlantic Northeast","value":57.7},{"year":2019,"series":"Atlantic Northeast","value":53.3}
 ],
 "vibrioLocalTrend": [
{"year":1980,"series":"Baltics","value":40.6},{"year":2021.55,"series":"Baltics","value":95.6},
{"year":1980,"series":"Pacific Northwest","value":1.8},{"year":2021.55,"series":"Pacific Northwest","value":6.0},
{"year":1980,"series":"Atlantic Northeast","value":22.9},{"year":2021.55,"series":"Atlantic Northeast","value":59.2}
 ]
},
"concat": [
 {
  "width": 315, "height": 165,
  "resolve": {"scale": {"color": "independent"}, "legend": {"color": "independent"}},
  "encoding": {
   "x": {"field": "year", "type": "quantitative", "scale": {"domain": [1950, 2022.3], "nice": false, "zero": false}, "axis": {"values": [1950,1960,1970,1980,1990,2000,2010,2020], "format": "d", "title": null}},
   "y": {"field": "value", "type": "quantitative", "scale": {"domain": [-10, 15], "nice": false, "zero": false}, "axis": {"values": [-10,-5,0,5,10,15], "title": "Change in vectorial capacity (%)", "titlePadding": 20}}
  },
  "layer": [
   {"data": {"values": [{"year": 1950, "value": 0}, {"year": 2020, "value": 0}]}, "mark": {"type": "line", "color": "#4c5d78", "strokeDash": [3, 2], "strokeWidth": 1.2}, "encoding": {}},
   {"data": {"name": "dengueTrend"}, "mark": {"type": "line", "strokeDash": [3, 2], "strokeWidth": 1.5},
    "encoding": {"color": {"field": "series", "type": "nominal", "scale": {"domain": ["Aedes aegypti", "Aedes albopictus"], "range": ["#e8302a", "#1f5ba6"]}, "legend": null}}},
   {"data": {"name": "dengue"}, "mark": {"type": "line", "strokeWidth": 1.3},
    "encoding": {"color": {"field": "series", "type": "nominal", "scale": {"domain": ["Aedes aegypti", "Aedes albopictus"], "range": ["#e8302a", "#1f5ba6"]},
     "legend": {"title": "Dengue (global)", "orient": "none", "legendX": 0, "legendY": -62, "labelFontStyle": "italic"}}}}
  ]
 },
 {
  "width": 312, "height": 165,
  "resolve": {"scale": {"color": "independent"}, "legend": {"color": "independent"}},
  "encoding": {
   "x": {"field": "year", "type": "quantitative", "scale": {"domain": [1950, 2022.7], "nice": false, "zero": false}, "axis": {"values": [1950,1960,1970,1980,1990,2000,2010,2020], "format": "d", "title": null}},
   "y": {"field": "value", "type": "quantitative", "scale": {"domain": [-0.3, 4], "nice": false, "zero": false}, "axis": {"values": [0,1,2,3,4], "title": ["Average number of months suitable", "for malaria transmission"], "titlePadding": 17}}
  },
  "layer": [
   {"data": {"name": "malariaTrend"}, "mark": {"type": "line", "strokeDash": [3, 2], "strokeWidth": 1.5},
    "encoding": {"color": {"field": "series", "type": "nominal", "scale": {"domain": ["African region", "Region of the Americas", "Western Pacific region", "Eastern Mediterranean region", "South-East Asia region"], "range": ["#22a3cf", "#1d4f9c", "#e6c11d", "#6abf45", "#f47a44"]}, "legend": null}}},
   {"data": {"name": "malaria"}, "mark": {"type": "line", "strokeWidth": 1.3},
    "encoding": {"color": {"field": "series", "type": "nominal", "scale": {"domain": ["African region", "Region of the Americas", "Western Pacific region", "Eastern Mediterranean region", "South-East Asia region"], "range": ["#22a3cf", "#1d4f9c", "#e6c11d", "#6abf45", "#f47a44"]},
     "legend": {"title": "Malaria (highland areas)", "orient": "none", "legendX": 0, "legendY": -62, "columns": 2, "gridAlign": "none", "columnPadding": 11, "rowPadding": -0.5}}}}
  ]
 },
 {
  "width": 315, "height": 166,
  "resolve": {"scale": {"color": "independent"}, "legend": {"color": "independent"}},
  "encoding": {
   "x": {"field": "year", "type": "quantitative", "scale": {"domain": [1980, 2021.45], "nice": false, "zero": false}, "axis": {"values": [1980,1985,1990,1995,2000,2005,2010,2015,2020], "format": "d", "title": "Year", "titlePadding": 4}},
   "y": {"field": "value", "type": "quantitative", "scale": {"domain": [3, 18], "nice": false, "zero": false}, "axis": {"values": [3,6,9,12,15,18], "title": ["Area of coastline", "suitable for outbreaks (%)"], "titlePadding": 10}}
  },
  "layer": [
   {"data": {"name": "vibrioGlobalTrend"}, "mark": {"type": "line", "strokeDash": [3, 2], "strokeWidth": 1.5},
    "encoding": {"color": {"field": "series", "type": "nominal", "scale": {"domain": ["Northern", "Tropics", "Southern"], "range": ["#1f58a4", "#a47fc0", "#25a9cf"]}, "legend": null}}},
   {"data": {"name": "vibrioGlobal"}, "mark": {"type": "line", "strokeWidth": 1.3},
    "encoding": {"color": {"field": "series", "type": "nominal", "scale": {"domain": ["Northern", "Tropics", "Southern"], "range": ["#1f58a4", "#a47fc0", "#25a9cf"]},
     "legend": {"title": ["Vibrio bacteria (global)", "Latitude"], "titleLineHeight": 21, "orient": "none", "legendX": 0, "legendY": -59, "direction": "horizontal", "columnPadding": 18, "titlePadding": 4}}}}
  ]
 },
 {
  "width": 312, "height": 166,
  "resolve": {"scale": {"color": "independent"}, "legend": {"color": "independent"}},
  "encoding": {
   "x": {"field": "year", "type": "quantitative", "scale": {"domain": [1980, 2021.55], "nice": false, "zero": false}, "axis": {"values": [1980,1985,1990,1995,2000,2005,2010,2015,2020], "format": "d", "title": "Year", "titlePadding": 4}},
   "y": {"field": "value", "type": "quantitative", "scale": {"domain": [0, 100], "nice": false}, "axis": {"values": [0,20,40,60,80,100], "title": ["Area of coastline", "suitable for outbreaks (%)"], "titlePadding": 8}}
  },
  "layer": [
   {"data": {"name": "vibrioLocalTrend"}, "mark": {"type": "line", "strokeDash": [3, 2], "strokeWidth": 1.5},
    "encoding": {"color": {"field": "series", "type": "nominal", "scale": {"domain": ["Baltics", "Pacific Northwest", "Atlantic Northeast"], "range": ["#2a68b1", "#9a6cc0", "#6dbd45"]}, "legend": null}}},
   {"data": {"name": "vibrioLocal"}, "mark": {"type": "line", "strokeWidth": 1.3},
    "encoding": {"color": {"field": "series", "type": "nominal", "scale": {"domain": ["Baltics", "Pacific Northwest", "Atlantic Northeast"], "range": ["#2a68b1", "#9a6cc0", "#6dbd45"]},
     "legend": {"title": "Vibrio bacteria (local)", "orient": "none", "legendX": 0, "legendY": -59, "direction": "horizontal", "columnPadding": 15, "titlePadding": 25}}}}
  ]
 }
]
}
